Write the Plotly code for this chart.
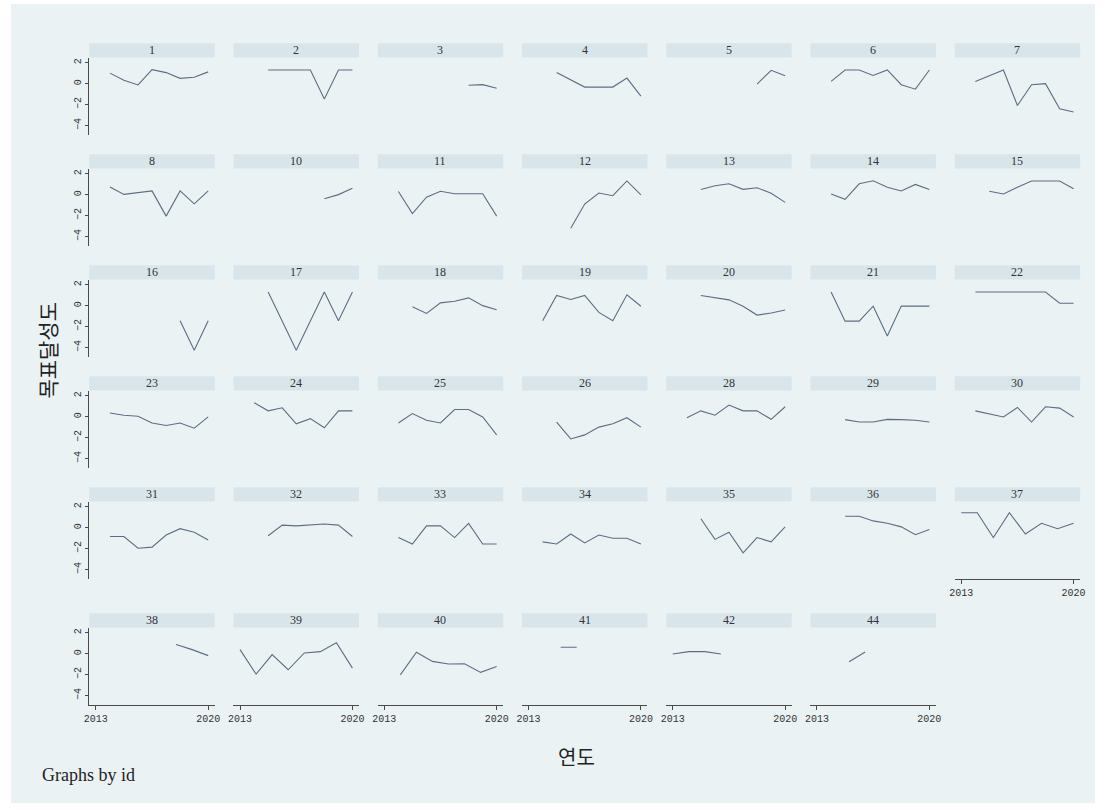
import plotly.graph_objects as go

# Panel ids in display order (7 columns, row-major)
ids = [1, 2, 3, 4, 5, 6, 7,
       8, 10, 11, 12, 13, 14, 15,
       16, 17, 18, 19, 20, 21, 22,
       23, 24, 25, 26, 28, 29, 30,
       31, 32, 33, 34, 35, 36, 37,
       38, 39, 40, 41, 42, 44]

# 연도 (x) per panel
years = [
    [2013.88, 2014.75, 2015.63, 2016.5, 2017.38, 2018.25, 2019.13, 2020],
    [2014.75, 2015.63, 2016.5, 2017.38, 2018.25, 2019.13, 2020],
    [2018.25, 2019.13, 2020],
    [2014.75, 2016.5, 2017.38, 2018.25, 2019.13, 2020],
    [2018.25, 2019.13, 2020],
    [2013.88, 2014.75, 2015.63, 2016.5, 2017.38, 2018.25, 2019.13, 2020],
    [2013.88, 2015.63, 2016.5, 2017.38, 2018.25, 2019.13, 2020],
    [2013.88, 2014.75, 2016.5, 2017.38, 2018.25, 2019.13, 2020],
    [2018.25, 2019.13, 2020],
    [2013.88, 2014.75, 2015.63, 2016.5, 2017.38, 2018.25, 2019.13, 2020],
    [2015.63, 2016.5, 2017.38, 2018.25, 2019.13, 2020],
    [2014.75, 2015.63, 2016.5, 2017.38, 2018.25, 2019.13, 2020],
    [2013.88, 2014.75, 2015.63, 2016.5, 2017.38, 2018.25, 2019.13, 2020],
    [2014.75, 2015.63, 2016.5, 2017.38, 2018.25, 2019.13, 2020],
    [2018.25, 2019.13, 2020],
    [2014.75, 2016.5, 2018.25, 2019.13, 2020],
    [2014.75, 2015.63, 2016.5, 2017.38, 2018.25, 2019.13, 2020],
    [2013.88, 2014.75, 2015.63, 2016.5, 2017.38, 2018.25, 2019.13, 2020],
    [2014.75, 2015.63, 2016.5, 2017.38, 2018.25, 2019.13, 2020],
    [2013.88, 2014.75, 2015.63, 2016.5, 2017.38, 2018.25, 2019.13, 2020],
    [2013.88, 2014.75, 2015.63, 2016.5, 2017.38, 2018.25, 2019.13, 2020],
    [2013.88, 2014.75, 2015.63, 2016.5, 2017.38, 2018.25, 2019.13, 2020],
    [2013.88, 2014.75, 2015.63, 2016.5, 2017.38, 2018.25, 2019.13, 2020],
    [2013.88, 2014.75, 2015.63, 2016.5, 2017.38, 2018.25, 2019.13, 2020],
    [2014.75, 2015.63, 2016.5, 2017.38, 2018.25, 2019.13, 2020],
    [2013.88, 2014.75, 2015.63, 2016.5, 2017.38, 2018.25, 2019.13, 2020],
    [2014.75, 2015.63, 2016.5, 2017.38, 2018.25, 2019.13, 2020],
    [2013.88, 2014.75, 2015.63, 2016.5, 2017.38, 2018.25, 2019.13, 2020],
    [2013.88, 2014.75, 2015.63, 2016.5, 2017.38, 2018.25, 2019.13, 2020],
    [2014.75, 2015.63, 2016.5, 2017.38, 2018.25, 2019.13, 2020],
    [2013.88, 2014.75, 2015.63, 2016.5, 2017.38, 2018.25, 2019.13, 2020],
    [2013.88, 2014.75, 2015.63, 2016.5, 2017.38, 2018.25, 2019.13, 2020],
    [2014.75, 2015.63, 2016.5, 2017.38, 2018.25, 2019.13, 2020],
    [2014.75, 2015.63, 2016.5, 2017.38, 2018.25, 2019.13, 2020],
    [2013, 2014, 2015, 2016, 2017, 2018, 2019, 2020],
    [2018, 2019, 2020],
    [2013, 2014, 2015, 2016, 2017, 2018, 2019, 2020],
    [2014, 2015, 2016, 2017, 2018, 2019, 2020],
    [2015, 2016],
    [2013, 2014, 2015, 2016],
    [2015, 2016],
]

# 목표달성도 (y) per panel
scores = [
    [1.0, 0.33, -0.13, 1.33, 1.05, 0.5, 0.6, 1.12],
    [1.3, 1.3, 1.3, 1.3, -1.47, 1.3, 1.3],
    [-0.15, -0.1, -0.45],
    [1.07, -0.33, -0.33, -0.33, 0.53, -1.2],
    [-0.05, 1.27, 0.75],
    [0.22, 1.3, 1.3, 0.78, 1.3, -0.1, -0.53, 1.3],
    [0.2, 1.3, -2.08, -0.1, 0.0, -2.4, -2.7],
    [0.72, 0.02, 0.35, -2.05, 0.35, -0.88, 0.35],
    [-0.4, 0.0, 0.6],
    [0.3, -1.8, -0.25, 0.32, 0.08, 0.08, 0.08, -2.05],
    [-3.2, -0.9, 0.15, -0.1, 1.3, -0.03],
    [0.48, 0.85, 1.03, 0.5, 0.65, 0.13, -0.74],
    [0.06, -0.45, 1.03, 1.32, 0.71, 0.35, 0.97, 0.48],
    [0.32, 0.06, 0.7, 1.3, 1.3, 1.3, 0.55],
    [-1.45, -4.25, -1.45],
    [1.3, -4.25, 1.3, -1.45, 1.3],
    [-0.1, -0.74, 0.26, 0.42, 0.74, 0.0, -0.39],
    [-1.45, 0.97, 0.58, 0.97, -0.65, -1.45, 1.03, -0.06],
    [0.97, 0.74, 0.55, -0.06, -0.9, -0.71, -0.42],
    [1.3, -1.48, -1.48, -0.05, -2.9, -0.05, -0.05, -0.05],
    [1.3, 1.3, 1.3, 1.3, 1.3, 1.3, 0.23, 0.23],
    [0.35, 0.13, 0.03, -0.61, -0.84, -0.61, -1.1, -0.03],
    [1.32, 0.55, 0.84, -0.68, -0.19, -1.06, 0.55, 0.55],
    [-0.61, 0.29, -0.35, -0.61, 0.68, 0.68, -0.03, -1.74],
    [-0.52, -2.13, -1.74, -1.0, -0.68, -0.1, -1.0],
    [-0.1, 0.55, 0.13, 1.1, 0.55, 0.55, -0.26, 0.94],
    [-0.29, -0.52, -0.52, -0.26, -0.29, -0.35, -0.52],
    [0.55, 0.29, -0.03, 0.87, -0.52, 0.94, 0.81, -0.03],
    [-0.85, -0.85, -1.97, -1.86, -0.71, -0.1, -0.44, -1.19],
    [-0.78, 0.24, 0.17, 0.24, 0.34, 0.24, -0.85],
    [-0.95, -1.56, 0.17, 0.17, -0.95, 0.41, -1.56, -1.56],
    [-1.36, -1.56, -0.61, -1.46, -0.71, -1.02, -1.02, -1.56],
    [0.85, -1.12, -0.44, -2.41, -0.95, -1.36, 0.07],
    [1.08, 1.08, 0.64, 0.41, 0.07, -0.68, -0.17],
    [1.42, 1.42, -0.95, 1.42, -0.61, 0.41, -0.1, 0.41],
    [0.87, 0.38, -0.19],
    [0.38, -1.96, -0.1, -1.54, 0.06, 0.19, 1.03, -1.38],
    [-2.02, 0.13, -0.74, -0.99, -0.96, -1.79, -1.22],
    [0.61, 0.61],
    [-0.03, 0.19, 0.19, -0.03],
    [-0.77, 0.16],
]

x_ticks = [2013, 2020]
y_ticks = [-4, -2, 0, 2]

W, H = 1106, 810
NCOL = 7
COL_LEFT0, COL_PITCH, PANEL_W = 85.0, 145.55, 126.7
ROW_TOPS = [43.3, 154.3, 265.3, 376.3, 487.3, 613.3]   # strip tops (px)
STRIP_H, PLOT_H = 14.3, 77.0

X_RANGE = [2012.59, 2020.41]
Y_RANGE = [-4.86, 2.48]

LINE_COLOR = "#5c6e82"
BG = "#ebf2f4"
STRIP_BG = "#d8e6ec"
AXIS_COLOR = "#4a4a4a"

fig = go.Figure()
layout = dict(
    width=W, height=H,
    margin=dict(l=0, r=0, t=0, b=0),
    paper_bgcolor="white",
    plot_bgcolor="white",
    showlegend=False,
    shapes=[], annotations=[],
)

def px_x(v):
    return v / W

def px_y(v):
    return 1 - v / H

# graph region background
layout["shapes"].append(dict(type="rect", xref="paper", yref="paper",
                             x0=px_x(6), x1=px_x(1100), y0=px_y(803), y1=px_y(4),
                             fillcolor=BG, line=dict(width=0), layer="below"))

n_panels = len(ids)
for i, (pid, xs, ys) in enumerate(zip(ids, years, scores)):
    r, c = divmod(i, NCOL)
    left = COL_LEFT0 + COL_PITCH * c
    right = left + PANEL_W
    strip_top = ROW_TOPS[r]
    plot_top = strip_top + STRIP_H
    plot_bot = plot_top + PLOT_H
    n = i + 1
    xa = "x" if n == 1 else f"x{n}"
    ya = "y" if n == 1 else f"y{n}"
    xkey = "xaxis" if n == 1 else f"xaxis{n}"
    ykey = "yaxis" if n == 1 else f"yaxis{n}"

    fig.add_trace(go.Scatter(x=xs, y=ys, mode="lines", xaxis=xa, yaxis=ya,
                             line=dict(color=LINE_COLOR, width=1.1),
                             hoverinfo="skip"))

    # x axis shown on the last panel of each column
    show_x = (i + NCOL) >= n_panels
    show_y = (c == 0)

    layout[xkey] = dict(
        domain=[px_x(left), px_x(right)], anchor=ya, range=X_RANGE,
        showgrid=False, zeroline=False, fixedrange=True,
        showline=show_x, linecolor=AXIS_COLOR, linewidth=1,
        tickvals=x_ticks if show_x else [],
        ticktext=[str(t) for t in x_ticks] if show_x else [],
        ticks="outside" if show_x else "", ticklen=4, tickcolor=AXIS_COLOR,
        showticklabels=show_x,
        tickfont=dict(family="Liberation Mono", size=10, color="#333333"),
    )
    layout[ykey] = dict(
        domain=[px_y(plot_bot), px_y(plot_top)], anchor=xa, range=Y_RANGE,
        showgrid=False, zeroline=False, fixedrange=True,
        showline=show_y, linecolor=AXIS_COLOR, linewidth=1,
        tickvals=y_ticks if show_y else [],
        ticks="outside" if show_y else "", ticklen=3, tickcolor=AXIS_COLOR,
        showticklabels=show_y, tickangle=-90,
        tickfont=dict(family="Liberation Mono", size=10, color="#333333"),
    )

    # strip with panel id
    layout["shapes"].append(dict(type="rect", xref="paper", yref="paper",
                                 x0=px_x(left), x1=px_x(right),
                                 y0=px_y(plot_top), y1=px_y(strip_top),
                                 fillcolor=STRIP_BG, line=dict(width=0)))
    layout["annotations"].append(dict(
        text=str(pid), xref="paper", yref="paper",
        x=px_x((left + right) / 2), y=px_y(strip_top + STRIP_H / 2),
        xanchor="center", yanchor="middle", showarrow=False,
        font=dict(family="Liberation Serif", size=12, color="#333333")))

# axis titles and note
layout["annotations"].append(dict(
    text="목표달성도", xref="paper", yref="paper", x=px_x(42), y=px_y(350),
    textangle=-90, xanchor="center", yanchor="middle", showarrow=False,
    font=dict(family="Noto Sans CJK KR", size=21, color="#222222")))
layout["annotations"].append(dict(
    text="연도", xref="paper", yref="paper", x=px_x(577), y=px_y(756),
    xanchor="center", yanchor="middle", showarrow=False,
    font=dict(family="Noto Sans CJK KR", size=20, color="#222222")))
layout["annotations"].append(dict(
    text="Graphs by id", xref="paper", yref="paper", x=px_x(35), y=px_y(775),
    xanchor="left", yanchor="middle", showarrow=False,
    font=dict(family="Liberation Serif", size=18, color="#222222")))

fig.update_layout(**layout)
fig.write_html("out.html")
